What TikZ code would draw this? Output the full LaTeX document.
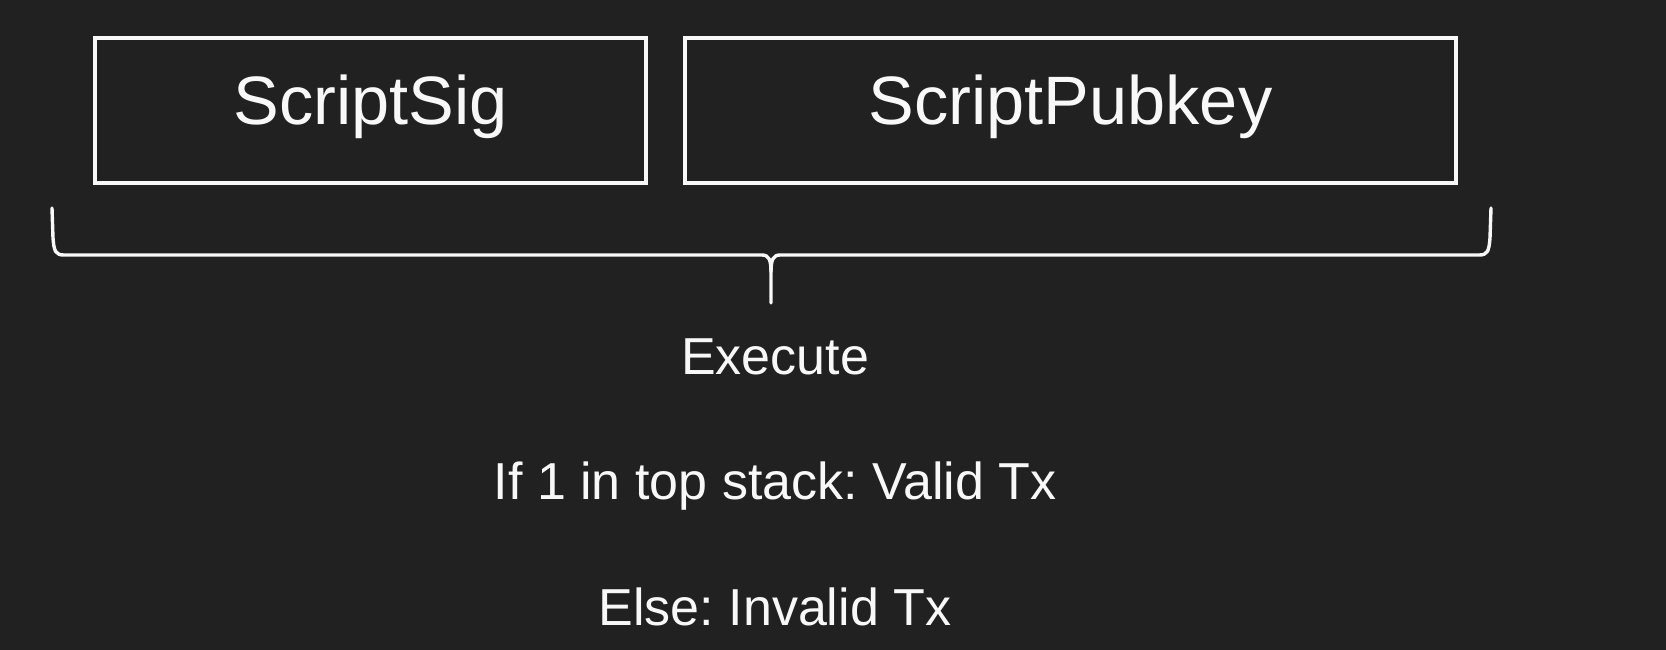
\documentclass[tikz,border=0pt]{standalone}
\usepackage{fontspec}
\setmainfont{Liberation Sans}
\frenchspacing
\definecolor{bg}{HTML}{212121}
\definecolor{fg}{HTML}{F8F8F8}
\begin{document}
\begin{tikzpicture}[x=1pt,y=-1pt,
  boxst/.style={draw=fg,line width=3.4pt,inner sep=0pt,text=fg,
    minimum height=145pt,text height=50pt,text depth=22pt,
    font=\fontsize{68.5}{80}\selectfont},
  txt/.style={text=fg,anchor=base,inner sep=0pt,font=\fontsize{52}{60}\selectfont\frenchspacing},
  bracest/.style={draw=fg,line width=3.4pt,line cap=round,line join=round}]
\fill[bg] (0,0) rectangle (1666,650);
\useasboundingbox (0,0) rectangle (1666,650);
\node[boxst,minimum width=551pt] (sig) at (370.5,110.5) {ScriptSig};
\node[boxst,minimum width=771pt] (pub) at (1070.5,110.5) {ScriptPubkey};
\coordinate (bl) at (52,208);
\coordinate (br) at (1491,208);
\coordinate (bt) at (771,303);
\path[bracest] (bl) -- (53,238) .. controls (54,252) and (56,255) .. (64,255)
  -- (762,255) .. controls (769,255) and (771,260) .. (771,272) -- (bt);
\path[bracest] (br) -- (1490,238) .. controls (1489,252) and (1487,255) .. (1479,255)
  -- (780,255) .. controls (773,255) and (771,260) .. (771,272);
\node[txt] (exec) at (775,374) {Execute};
\node[txt] (valid) at (775,499) {If 1 in top stack: Valid Tx};
\node[txt] (invalid) at (775,625) {Else: Invalid Tx};
\end{tikzpicture}
\end{document}
